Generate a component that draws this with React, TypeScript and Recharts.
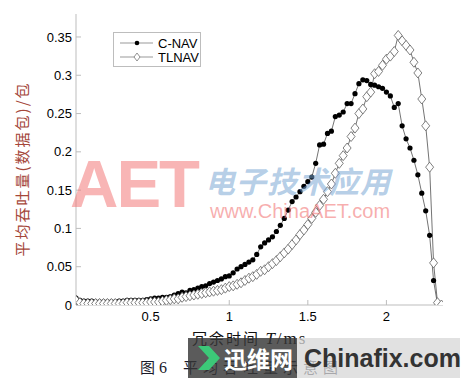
import React from 'react';
import { LineChart, Line, XAxis, YAxis, Legend } from 'recharts';

// redundancy time T (ms)
const TIME = [
  0.025, 0.05, 0.075, 0.1, 0.125, 0.15, 0.175, 0.2, 0.225, 0.25,
  0.275, 0.3, 0.325, 0.35, 0.375, 0.4, 0.425, 0.45, 0.475, 0.5,
  0.525, 0.55, 0.575, 0.6, 0.625, 0.65, 0.675, 0.7, 0.725, 0.75,
  0.775, 0.8, 0.825, 0.85, 0.875, 0.9, 0.925, 0.95, 0.975, 1,
  1.025, 1.05, 1.075, 1.1, 1.125, 1.15, 1.175, 1.2, 1.225, 1.25,
  1.275, 1.3, 1.325, 1.35, 1.375, 1.4, 1.425, 1.45, 1.475, 1.5,
  1.525, 1.55, 1.575, 1.6, 1.625, 1.65, 1.675, 1.7, 1.725, 1.75,
  1.775, 1.8, 1.825, 1.85, 1.875, 1.9, 1.925, 1.95, 1.975, 2,
  2.025, 2.05, 2.075, 2.1, 2.125, 2.15, 2.175, 2.2, 2.225, 2.25,
  2.275, 2.3, 2.325, 2.35,
];

const CNAV = [
  0.009, 0.006, 0.005, 0.005, 0.005, 0.004, 0.004, 0.004, 0.004, 0.004,
  0.004, 0.005, 0.005, 0.006, 0.006, 0.006, 0.006, 0.006, 0.007, 0.008,
  0.009, 0.009, 0.010, 0.010, 0.011, 0.013, 0.015, 0.017, 0.016, 0.019,
  0.020, 0.022, 0.024, 0.025, 0.028, 0.030, 0.032, 0.034, 0.037, 0.038,
  0.042, 0.047, 0.050, 0.053, 0.056, 0.059, 0.066, 0.076, 0.081, 0.085,
  0.089, 0.096, 0.104, 0.113, 0.124, 0.135, 0.141, 0.148, 0.155, 0.161,
  0.167, 0.185, 0.209, 0.210, 0.224, 0.227, 0.246, 0.248, 0.252, 0.263,
  0.263, 0.276, 0.289, 0.294, 0.293, 0.288, 0.287, 0.285, 0.283, 0.278,
  0.273, 0.258, 0.263, 0.234, 0.217, 0.205, 0.189, 0.170, 0.146, 0.123,
  0.091, 0.032, 0.001, 0.0,
];

const TLNAV = [
  0.006, 0.003, 0.002, 0.002, 0.002, 0.002, 0.002, 0.002, 0.002, 0.002,
  0.002, 0.002, 0.002, 0.003, 0.003, 0.003, 0.003, 0.003, 0.003, 0.004,
  0.004, 0.004, 0.005, 0.006, 0.007, 0.008, 0.008, 0.010, 0.011, 0.012,
  0.013, 0.014, 0.015, 0.016, 0.017, 0.018, 0.019, 0.020, 0.022, 0.024,
  0.025, 0.027, 0.029, 0.032, 0.035, 0.037, 0.040, 0.044, 0.046, 0.050,
  0.054, 0.058, 0.063, 0.068, 0.073, 0.079, 0.085, 0.092, 0.098, 0.105,
  0.113, 0.121, 0.130, 0.138, 0.148, 0.158, 0.172, 0.185, 0.195, 0.205,
  0.220, 0.231, 0.250, 0.256, 0.272, 0.278, 0.302, 0.305, 0.313, 0.321,
  0.325, 0.331, 0.352, 0.345, 0.339, 0.333, 0.317, 0.303, 0.269, 0.234,
  0.180, 0.055, 0.003, 0.0,
];

const X_TICKS = [0.5, 1, 1.5, 2];
const Y_TICKS = [0, 0.05, 0.1, 0.15, 0.2, 0.25, 0.3, 0.35];

const data = TIME.map((t, i) => ({ t, cnav: CNAV[i], tlnav: TLNAV[i] }));

const BOX = '#bdbdbd';
const LINE = '#505050';
const SANS = '"Liberation Sans", Arial, sans-serif';
const CJK = '"Noto Sans CJK SC", sans-serif';

const BlackDot = (props: any) => {
  const { cx, cy } = props;
  if (cx == null || cy == null) return null;
  return <circle cx={cx} cy={cy} r={2.6} fill="#000" />;
};

const Diamond = (props: any) => {
  const { cx, cy } = props;
  if (cx == null || cy == null) return null;
  const w = 4;
  const h = 5;
  return (
    <path
      d={`M${cx},${cy - h} L${cx + w},${cy} L${cx},${cy + h} L${cx - w},${cy} Z`}
      fill="#fff"
      stroke="#606060"
      strokeWidth={0.8}
    />
  );
};

const LegendBox = (props: any) => {
  const { payload } = props;
  return (
    <div
      style={{
        width: 88,
        height: 35,
        border: `1px solid ${BOX}`,
        background: '#fff',
        boxSizing: 'border-box',
        paddingTop: 3,
      }}
    >
      {(payload || []).map((entry: any, i: number) => (
        <div key={i} style={{ display: 'flex', alignItems: 'center', height: 14 }}>
          <svg width={40} height={14} style={{ marginLeft: 6 }}>
            <line x1={0} y1={7} x2={33} y2={7} stroke="#999" strokeWidth={1} />
            {i === 0 ? (
              <circle cx={17} cy={7} r={2.3} fill="#000" />
            ) : (
              <path d="M17,3 L20,7 L17,11 L14,7 Z" fill="#fff" stroke="#777" strokeWidth={0.8} />
            )}
          </svg>
          <span style={{ fontFamily: SANS, fontSize: 13, color: '#000', marginLeft: -2 }}>
            {entry.value}
          </span>
        </div>
      ))}
    </div>
  );
};

export default function App() {
  return (
    <div
      style={{
        position: 'absolute',
        left: 0,
        top: 0,
        width: 465,
        height: 383,
        background: '#fff',
        overflow: 'hidden',
      }}
    >
      <LineChart
        width={465}
        height={383}
        data={data}
        margin={{ top: 14, right: 22, bottom: 48, left: 0 }}
      >
        <XAxis
          dataKey="t"
          type="number"
          domain={[0.025, 2.36]}
          ticks={X_TICKS}
          allowDataOverflow
          height={30}
          stroke={BOX}
          tickSize={-5}
          tickMargin={12}
          tick={{ fill: '#000', fontSize: 13, fontFamily: SANS }}
        />
        <XAxis
          xAxisId="top"
          dataKey="t"
          type="number"
          orientation="top"
          domain={[0.025, 2.36]}
          ticks={X_TICKS}
          allowDataOverflow
          height={0}
          stroke={BOX}
          tickSize={-5}
          tick={false}
        />
        <YAxis
          type="number"
          domain={[0, 0.38]}
          ticks={Y_TICKS}
          allowDataOverflow
          width={76}
          stroke={BOX}
          tickSize={-5}
          tickMargin={9}
          tick={{ fill: '#000', fontSize: 13, fontFamily: SANS }}
        />
        <YAxis
          yAxisId="right"
          orientation="right"
          type="number"
          domain={[0, 0.38]}
          ticks={Y_TICKS}
          width={0}
          stroke={BOX}
          tickSize={-5}
          tick={false}
        />
        <Legend
          verticalAlign="middle"
          align="center"
          layout="horizontal"
          content={<LegendBox />}
          wrapperStyle={{ left: 113, top: 32, width: 88 }}
        />
        <Line
          type="linear"
          dataKey="cnav"
          name="C-NAV"
          stroke={LINE}
          strokeWidth={0.8}
          dot={<BlackDot />}
          activeDot={false}
          isAnimationActive={false}
        />
        <Line
          type="linear"
          dataKey="tlnav"
          name="TLNAV"
          stroke={LINE}
          strokeWidth={0.8}
          dot={<Diamond />}
          activeDot={false}
          isAnimationActive={false}
        />
      </LineChart>

      {/* y axis title */}
      <div
        style={{
          position: 'absolute',
          left: 21,
          top: 169,
          transform: 'translate(-50%, -50%) rotate(-90deg)',
          whiteSpace: 'nowrap',
          fontFamily: CJK,
          fontSize: 15,
          letterSpacing: 2,
          color: '#a5473a',
        }}
      >
        平均吞吐量(数据包)/包
      </div>

      {/* x axis title */}
      <div
        style={{
          position: 'absolute',
          left: 192,
          top: 327,
          whiteSpace: 'nowrap',
          fontFamily: CJK,
          fontSize: 15,
          letterSpacing: 2,
          color: '#111',
        }}
      >
        冗余时间{' '}
        <span style={{ fontFamily: '"Liberation Serif", serif', fontStyle: 'italic', fontSize: 17 }}>T</span>
        <span style={{ fontFamily: '"Liberation Serif", serif', fontSize: 17 }}>/ms</span>
      </div>

      {/* caption */}
      <div
        style={{
          position: 'absolute',
          left: 140,
          top: 356,
          whiteSpace: 'nowrap',
          fontFamily: CJK,
          fontSize: 15,
          color: '#1a1a2a',
        }}
      >
        图<span style={{ fontFamily: '"Liberation Serif", serif', fontSize: 16, marginLeft: 4 }}>6</span>
        <span style={{ marginLeft: 16, letterSpacing: 5 }}>平均吞吐量示意图</span>
      </div>

      {/* watermarks */}
      <div
        style={{
          position: 'absolute',
          left: 70,
          top: 150,
          fontFamily: SANS,
          fontWeight: 'bold',
          fontSize: 67,
          lineHeight: '67px',
          color: 'rgba(242, 120, 120, 0.55)',
          letterSpacing: -2,
          pointerEvents: 'none',
        }}
      >
        AET
      </div>
      <div
        style={{
          position: 'absolute',
          left: 205,
          top: 158,
          fontFamily: CJK,
          fontWeight: 'bold',
          fontStyle: 'italic',
          fontSize: 30,
          letterSpacing: 1,
          color: 'rgba(120, 165, 210, 0.55)',
          pointerEvents: 'none',
          whiteSpace: 'nowrap',
        }}
      >
        电子技术应用
      </div>
      <div
        style={{
          position: 'absolute',
          left: 210,
          top: 200,
          fontFamily: SANS,
          fontSize: 20,
          color: 'rgba(242, 120, 120, 0.6)',
          pointerEvents: 'none',
          whiteSpace: 'nowrap',
        }}
      >
        www.ChinaAET.com
      </div>

      {/* bottom badge */}
      <div
        style={{
          position: 'absolute',
          left: 188,
          top: 338,
          width: 109,
          height: 40,
          background: 'rgba(55, 55, 55, 0.82)',
          display: 'flex',
          alignItems: 'center',
          pointerEvents: 'none',
        }}
      >
        <svg width={26} height={30} style={{ marginLeft: 8 }}>
          <path d="M2,3 L13,3 L24,15 L13,27 L2,27 L13,15 Z" fill="#3cc878" />
        </svg>
        <span
          style={{
            fontFamily: CJK,
            fontWeight: 'bold',
            fontSize: 23,
            color: '#fff',
            marginLeft: 2,
            whiteSpace: 'nowrap',
          }}
        >
          迅维网
        </span>
      </div>
      <div
        style={{
          position: 'absolute',
          left: 297,
          top: 338,
          width: 163,
          height: 40,
          background: 'rgba(215, 215, 215, 0.75)',
          display: 'flex',
          alignItems: 'center',
          pointerEvents: 'none',
        }}
      >
        <span
          style={{
            fontFamily: SANS,
            fontWeight: 'bold',
            fontSize: 25,
            color: '#333',
            marginLeft: 7,
            whiteSpace: 'nowrap',
          }}
        >
          Chinafix.com
        </span>
      </div>
    </div>
  );
}
